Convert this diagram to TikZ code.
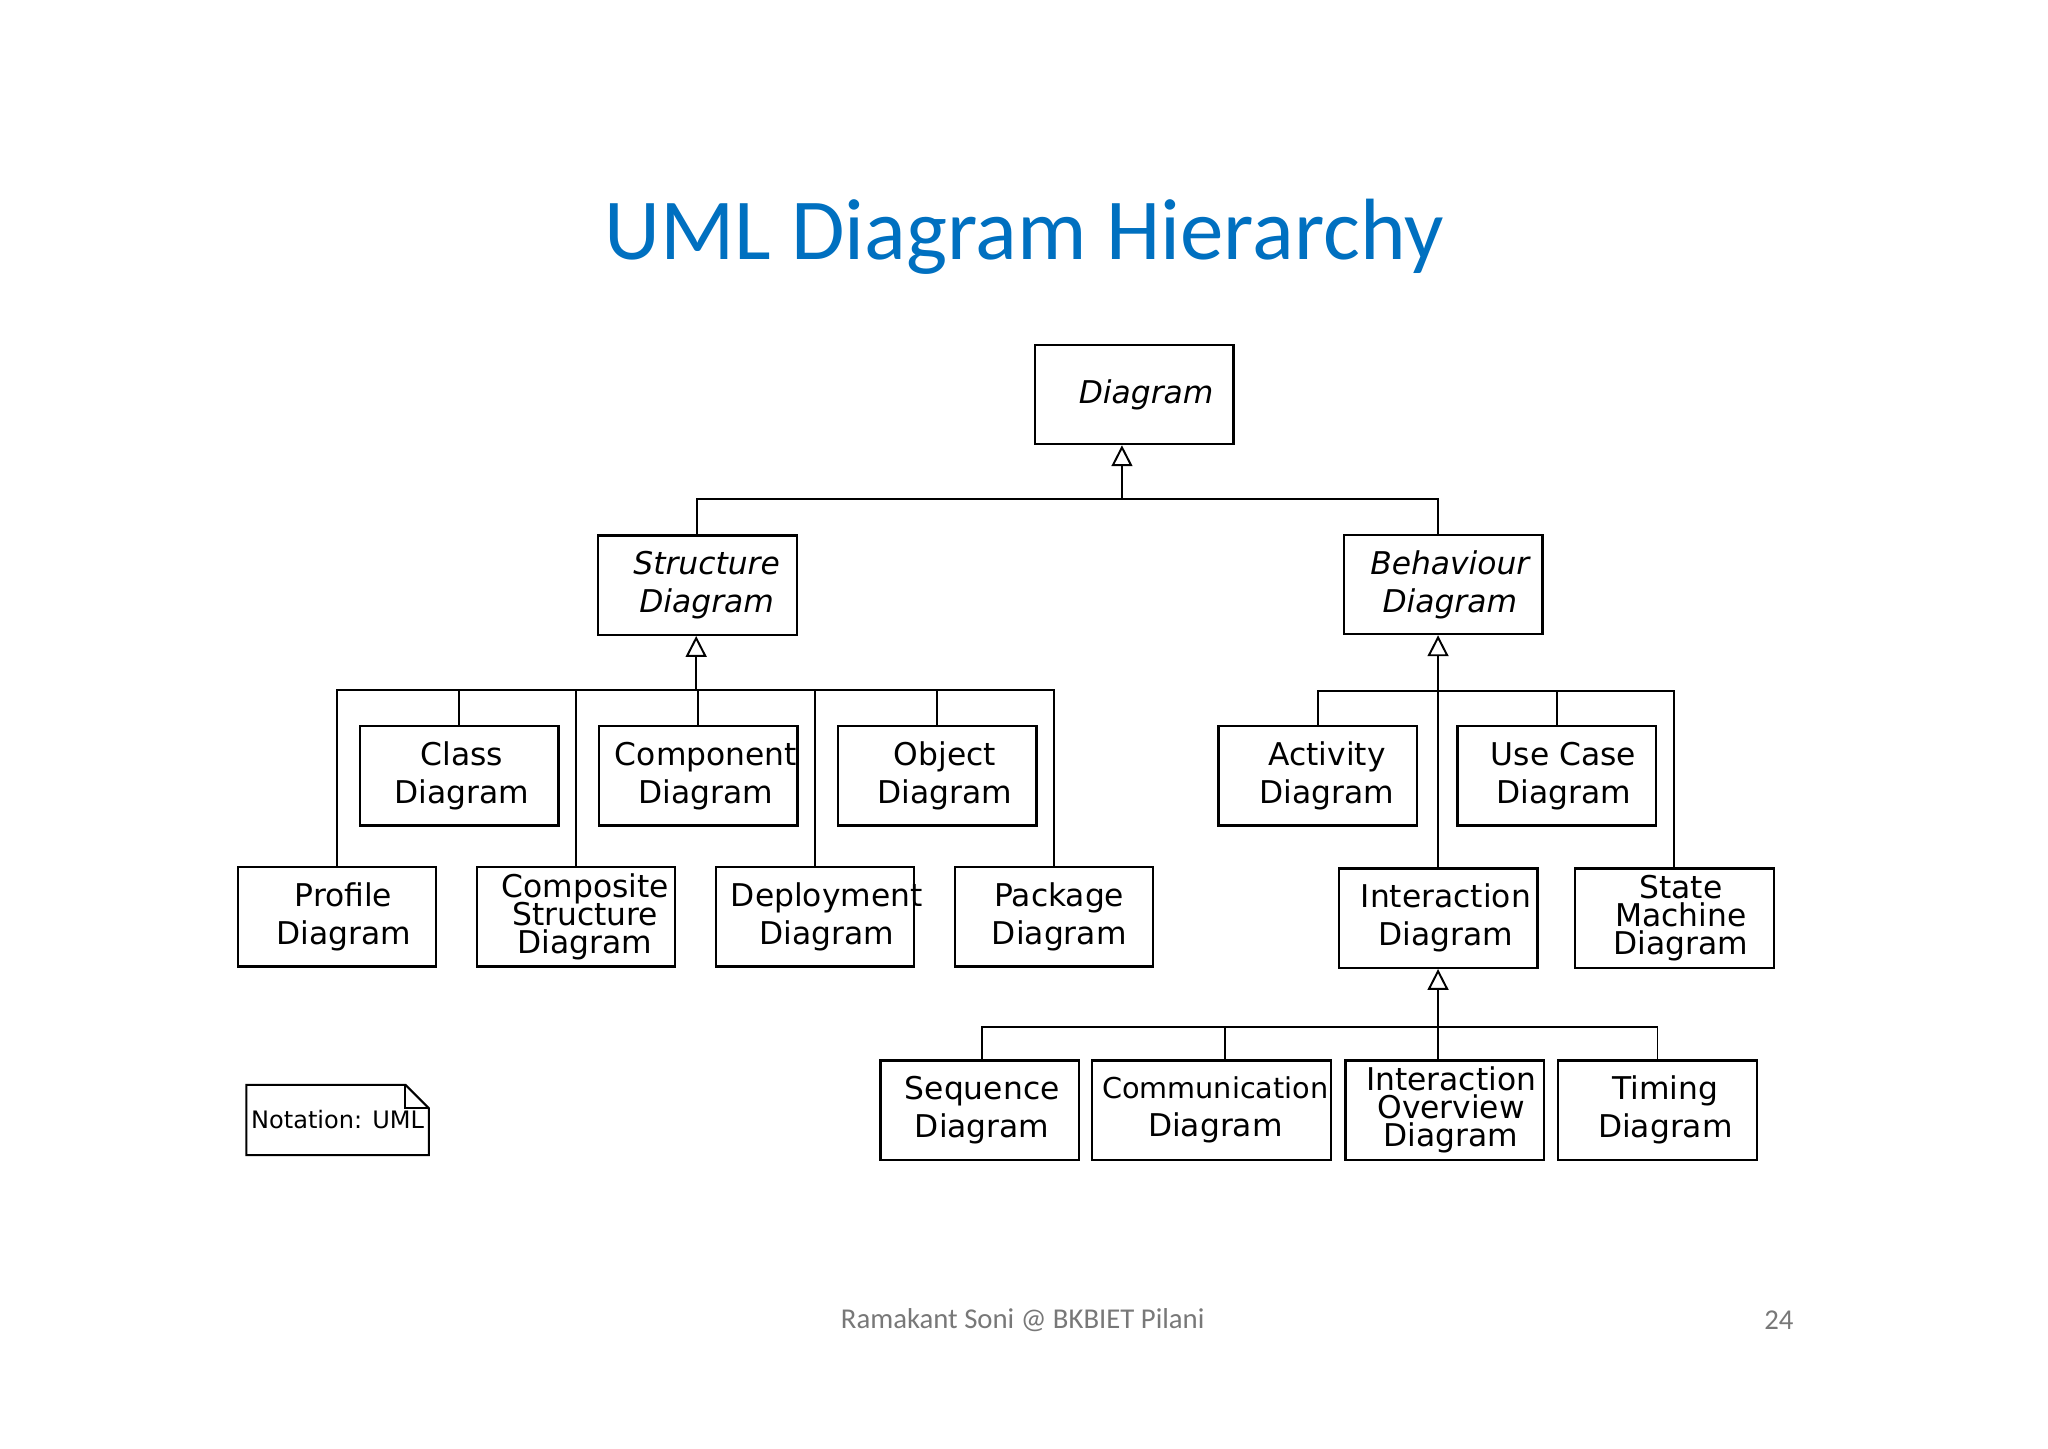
\documentclass[tikz,border=0pt]{standalone}
\usepackage{fontspec}
\usetikzlibrary{arrows.meta}
\newfontfamily\dejavu{DejaVu Sans}
\newfontfamily\carlito{Carlito}
\definecolor{titleblue}{RGB}{0,112,192}
\definecolor{footgray}{RGB}{120,120,120}
% centred lines (separated by \cr), block shifted right by half of #1, no effect on node width
\newcommand\txs[2]{\hspace*{#1}\makebox[0pt]{\vbox{\lineskiplimit=-100pt\lineskip=0pt\relax
  \halign{\hfil##\hfil\cr #2\crcr}}}}
\begin{document}
\begin{tikzpicture}[x=0.5pt,y=-0.5pt,
  ub/.style={draw,line width=0.9pt,minimum width=76pt,minimum height=38pt,inner sep=0pt,
    font=\dejavu\fontsize{12}{14.5}\selectfont},
  ubi/.style={ub,font=\dejavu\itshape\fontsize{12}{14.5}\selectfont},
  ub3/.style={ub,font=\dejavu\fontsize{12}{10.75}\selectfont},
  conn/.style={line width=0.75pt},
  gen/.style={conn,-{Triangle[open,length=8pt,width=8pt,line width=0.75pt]}}]
\useasboundingbox[fill=white] (0,0) rectangle (1568,1109);

\node[font=\carlito\fontsize{33.3}{40}\selectfont,text=titleblue] (title) at (784,181) {UML Diagram Hierarchy};

% level 0
\node[ubi] (diagram) at (868.5,302) {\txs{9pt}{Diagram}};
% level 1
\node[ubi] (structure) at (534,448) {\txs{7pt}{Structure\cr Diagram}};
\node[ubi] (behaviour) at (1105,447.5) {\txs{5pt}{Behaviour\cr Diagram}};
% structure children
\node[ub] (class) at (351.5,594) {\txs{2pt}{Class\cr Diagram}};
\node[ub] (component) at (534.5,594) {\txs{6pt}{Component\cr Diagram}};
\node[ub] (object) at (717.5,594) {\txs{6pt}{Object\cr Diagram}};
\node[ub] (profile) at (258,702) {\txs{5pt}{Profile\cr Diagram}};
\node[ub3] (composite) at (441,702) {\txs{7pt}{Composite\cr Structure\cr Diagram}};
\node[ub] (deployment) at (624,702) {\txs{9pt}{Deployment\cr Diagram}};
\node[ub] (package) at (807,702) {\txs{4pt}{Package\cr Diagram}};
% behaviour children
\node[ub] (activity) at (1009,594) {\txs{7pt}{Activity\cr Diagram}};
\node[ub] (usecase) at (1192,594) {\txs{5pt}{Use Case\cr Diagram}};
\node[ub] (interaction) at (1101,703) {\txs{6pt}{Interaction\cr Diagram}};
\node[ub3] (statemachine) at (1282,703) {\txs{5pt}{State\cr Machine\cr Diagram}};
% interaction children
\node[ub] (sequence) at (750,850) {\txs{2pt}{Sequence\cr Diagram}};
\node[ub,minimum width=91.5pt] (communication) at (927.5,850) {\txs{3pt}{{\fontsize{11}{14.5}\selectfont Communication}\cr Diagram}};
\node[ub3] (overview) at (1106,850) {\txs{5pt}{Interaction\cr Overview\cr Diagram}};
\node[ub] (timing) at (1269,850) {\txs{6pt}{Timing\cr Diagram}};

% buses
\coordinate (b0) at (859,382);
\coordinate (b1) at (533,528);
\coordinate (b2) at (1101,529);
\coordinate (b3) at (1101,786);

\draw[gen] (b0) -- (b0 |- diagram.south);
\draw[conn] (structure.north) |- (b0);
\draw[conn] ([xshift=-2pt]behaviour.north) |- (b0);

\draw[gen] (b1) -- (b1 |- structure.south);
\draw[conn] (component.north) |- (b1);
\draw[conn] (class.north) |- (b1);
\draw[conn] (object.north) |- (b1);
\draw[conn] (profile.north) |- (b1);
\draw[conn] (composite.north) |- (b1);
\draw[conn] (deployment.north) |- (b1);
\draw[conn] (package.north) |- (b1);

\draw[gen] (b2) -- (b2 |- behaviour.south);
\draw[conn] (interaction.north) -- (b2);
\draw[conn] (activity.north) |- (b2);
\draw[conn] (usecase.north) |- (b2);
\draw[conn] (statemachine.north) |- (b2);

\draw[gen] (b3) -- (interaction.south);
\draw[conn] ([xshift=1pt]sequence.north) |- (b3);
\draw[conn] ([xshift=5.25pt]communication.north) |- (b3);
\draw[conn] ([xshift=-2.5pt]overview.north) |- (b3);
\draw[conn] (timing.north) |- (b3);

% note
\node[minimum width=69.5pt,minimum height=26.5pt,inner sep=0pt,font=\dejavu\fontsize{9.2}{11}\selectfont] (note) at (258.5,857.5) {\raisebox{-3.5pt}{Notation: UML}};
\draw[line width=0.8pt] (note.north west) -- ([xshift=-9pt]note.north east) -- ([yshift=-9pt]note.north east) -- (note.south east) -- (note.south west) -- cycle;
\draw[line width=0.8pt] ([xshift=-9pt]note.north east) |- ([yshift=-9pt]note.north east);

% footer
\node[font=\carlito\fontsize{11}{13}\selectfont,text=footgray] (footer) at (783,1011) {Ramakant Soni @ BKBIET Pilani};
\node[font=\carlito\fontsize{11}{13}\selectfont,text=footgray] (pagenum) at (1362,1011) {24};
\end{tikzpicture}
\end{document}
